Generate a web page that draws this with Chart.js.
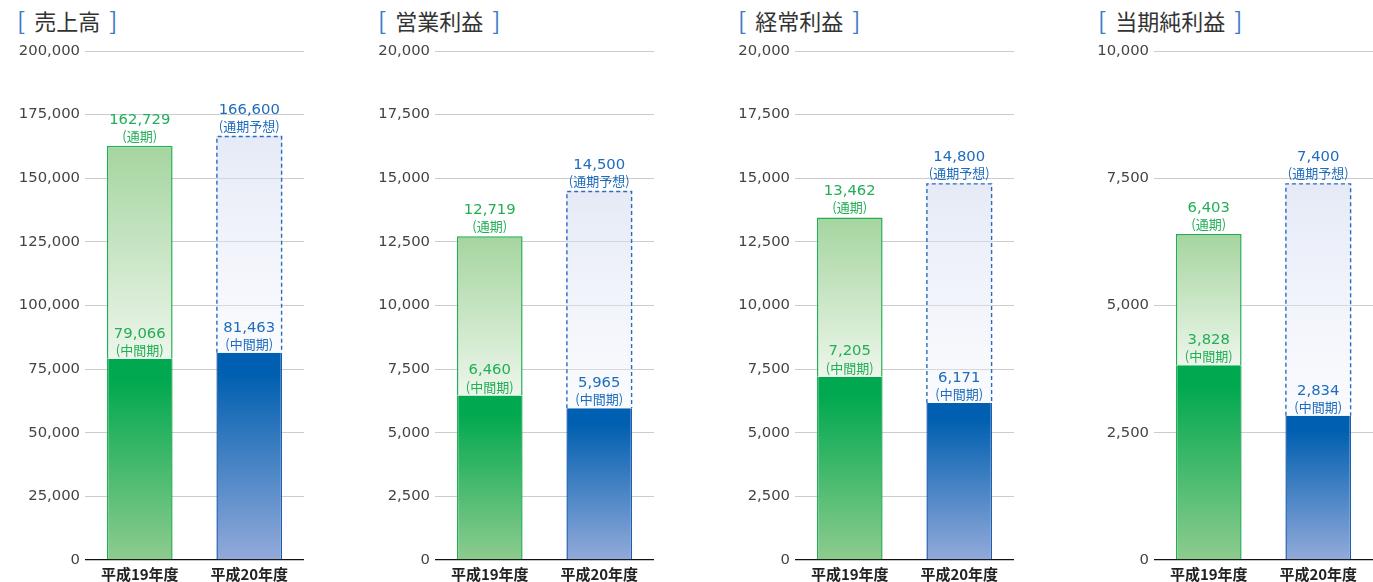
<!DOCTYPE html>
<html lang="ja">
<head>
<meta charset="utf-8">
<script src="https://cdn.jsdelivr.net/npm/chart.js@4/dist/chart.umd.min.js"></script>
<style>
html,body{margin:0;padding:0;background:#fff;}
#wrap{position:relative;width:1373px;height:582px;overflow:hidden;}
.ttl{position:absolute;top:6px;font:22px "Noto Sans CJK JP",sans-serif;line-height:28px;color:#333;white-space:nowrap;}
.ttl .br{color:#3a7cc4;font-size:24px;}
.ttl .l{margin-right:9px;}
.ttl .r{margin-left:9px;}
#wrap canvas{position:absolute;top:0;}
</style>
</head>
<body>
<div id="wrap"></div>
<script>
// 業績推移 - 4パネル（売上高・営業利益・経常利益・当期純利益）

var categories  = ['平成19年度', '平成20年度'];
var titles      = ['売上高', '営業利益', '経常利益', '当期純利益'];
var fullYear    = [[162729, 166600], [12719, 14500], [13462, 14800], [6403, 7400]];
var interim     = [[79066, 81463], [6460, 5965], [7205, 6171], [3828, 2834]];
var axisMax     = [200000, 20000, 20000, 10000];
var axisStep    = [25000, 2500, 2500, 2500];
var fullLabels  = ['(通期)', '(通期予想)'];
var interimLabel = '(中間期)';

var titleLeft  = [17, 378, 738, 1098];
var canvasLeft = [0, 350, 710, 1069];

var GREEN = '#22ae56', BLUE = '#1f6cbd';
var NUM_FONT = '"DejaVu Sans", sans-serif';
var JP_FONT  = '"Noto Sans CJK JP", sans-serif';

function fmt(v) { return v.toLocaleString('en-US'); }

function grad(ctx, y0, y1, stops) {
  var g = ctx.createLinearGradient(0, y0, 0, y1);
  stops.forEach(function(s) { g.addColorStop(s[0], s[1]); });
  return g;
}

var STOPS = {
  gLow: [[0, '#00a84f'], [0.1, '#00a84f'], [1, '#8ecc8e']],
  gUp:  [[0, '#a5d59f'], [1, '#edf6eb']],
  bLow: [[0, '#005fb0'], [0.1, '#005fb0'], [1, '#93aada']],
  bUp:  [[0, 'rgba(208,217,239,0.55)'], [1, 'rgba(240,243,251,0.35)']]
};

// ラベル・破線枠
var barLabels = {
  id: 'barLabels',
  afterDatasetsDraw: function(chart, args, opts) {
    var i = opts.panel;
    var ctx = chart.ctx;
    ctx.save();
    // 予想分の破線枠
    var up = chart.getDatasetMeta(1).data[1];
    var hw = up.width / 2;
    ctx.strokeStyle = '#2a6dbf';
    ctx.lineWidth = 1.4;
    ctx.setLineDash([4, 3]);
    ctx.beginPath();
    ctx.moveTo(up.x - hw + 0.5, up.base);
    ctx.lineTo(up.x - hw + 0.5, up.y + 0.5);
    ctx.lineTo(up.x + hw - 0.5, up.y + 0.5);
    ctx.lineTo(up.x + hw - 0.5, up.base);
    ctx.stroke();
    ctx.setLineDash([]);

    ctx.textAlign = 'center';
    ctx.textBaseline = 'middle';
    [0, 1].forEach(function(j) {
      ctx.fillStyle = j === 0 ? GREEN : BLUE;
      var lo = chart.getDatasetMeta(0).data[j];
      var hi = chart.getDatasetMeta(1).data[j];
      ctx.font = '14.8px ' + NUM_FONT;
      ctx.fillText(fmt(interim[i][j]), lo.x, lo.y - 25);
      ctx.fillText(fmt(fullYear[i][j]), hi.x, hi.y - 26);
      ctx.font = '13px ' + JP_FONT;
      ctx.fillText(interimLabel, lo.x, lo.y - 9);
      ctx.fillText(fullLabels[j], hi.x, hi.y - 10);
    });
    ctx.restore();
  }
};

function makePanel(i) {
  var wrap = document.getElementById('wrap');
  var t = document.createElement('div');
  t.className = 'ttl';
  t.style.left = titleLeft[i] + 'px';
  t.innerHTML = '<span class="br l">[</span>' + titles[i] + '<span class="br r">]</span>';
  wrap.appendChild(t);

  var cv = document.createElement('canvas');
  cv.width = 304; cv.height = 582;
  cv.style.left = canvasLeft[i] + 'px';
  wrap.appendChild(cv);

  var upper = fullYear[i].map(function(v, j) { return v - interim[i][j]; });

  function bg(ds) {
    return function(c) {
      var ch = c.chart;
      if (!ch.chartArea || c.dataIndex === undefined) return '#fff';
      var y = ch.scales.y, j = c.dataIndex;
      var lo = ds === 0 ? 0 : interim[i][j];
      var hi = ds === 0 ? interim[i][j] : fullYear[i][j];
      var key = (j === 0 ? 'g' : 'b') + (ds === 0 ? 'Low' : 'Up');
      return grad(ch.ctx, y.getPixelForValue(hi), y.getPixelForValue(lo), STOPS[key]);
    };
  }

  new Chart(cv.getContext('2d'), {
    type: 'bar',
    data: {
      labels: categories,
      datasets: [{
        data: interim[i],
        backgroundColor: bg(0),
        borderColor: [GREEN, '#1d5fae'],
        borderWidth: {left: 1.5, right: 1.5, top: 0, bottom: 0},
        borderSkipped: false,
        barPercentage: 0.6,
        categoryPercentage: 1
      }, {
        data: upper,
        backgroundColor: bg(1),
        borderColor: [GREEN, 'rgba(0,0,0,0)'],
        borderWidth: function(c) {
          return c.dataIndex === 0 ? {left: 1.5, right: 1.5, top: 1.5, bottom: 0} : 0;
        },
        borderSkipped: false,
        barPercentage: 0.6,
        categoryPercentage: 1
      }]
    },
    options: {
      responsive: false,
      animation: false,
      layout: {padding: {top: 51, left: 0, right: 0, bottom: 0}},
      plugins: {
        legend: {display: false},
        tooltip: {enabled: false},
        barLabels: {panel: i}
      },
      scales: {
        x: {
          stacked: true,
          grid: {display: false, drawTicks: false},
          border: {display: false},
          ticks: {color: '#222', padding: 5, font: {family: JP_FONT, size: 15, weight: 'bold'}},
          afterFit: function(s) { s.height = 22; }
        },
        y: {
          stacked: true,
          min: 0,
          max: axisMax[i],
          border: {display: false},
          grid: {
            drawTicks: false,
            color: function(c) { return c.tick && c.tick.value === 0 ? '#111' : '#cccccc'; },
            lineWidth: function(c) { return c.tick && c.tick.value === 0 ? 1.3 : 1; }
          },
          ticks: {
            stepSize: axisStep[i],
            padding: 5,
            color: '#444',
            font: {family: NUM_FONT, size: 14.8},
            callback: function(v) { return fmt(v); }
          },
          afterFit: function(s) { s.width = 85; }
        }
      }
    },
    plugins: [barLabels]
  });
}

document.addEventListener('DOMContentLoaded', function() {
  for (var i = 0; i < titles.length; i++) makePanel(i);
});
</script>
</body>
</html>
